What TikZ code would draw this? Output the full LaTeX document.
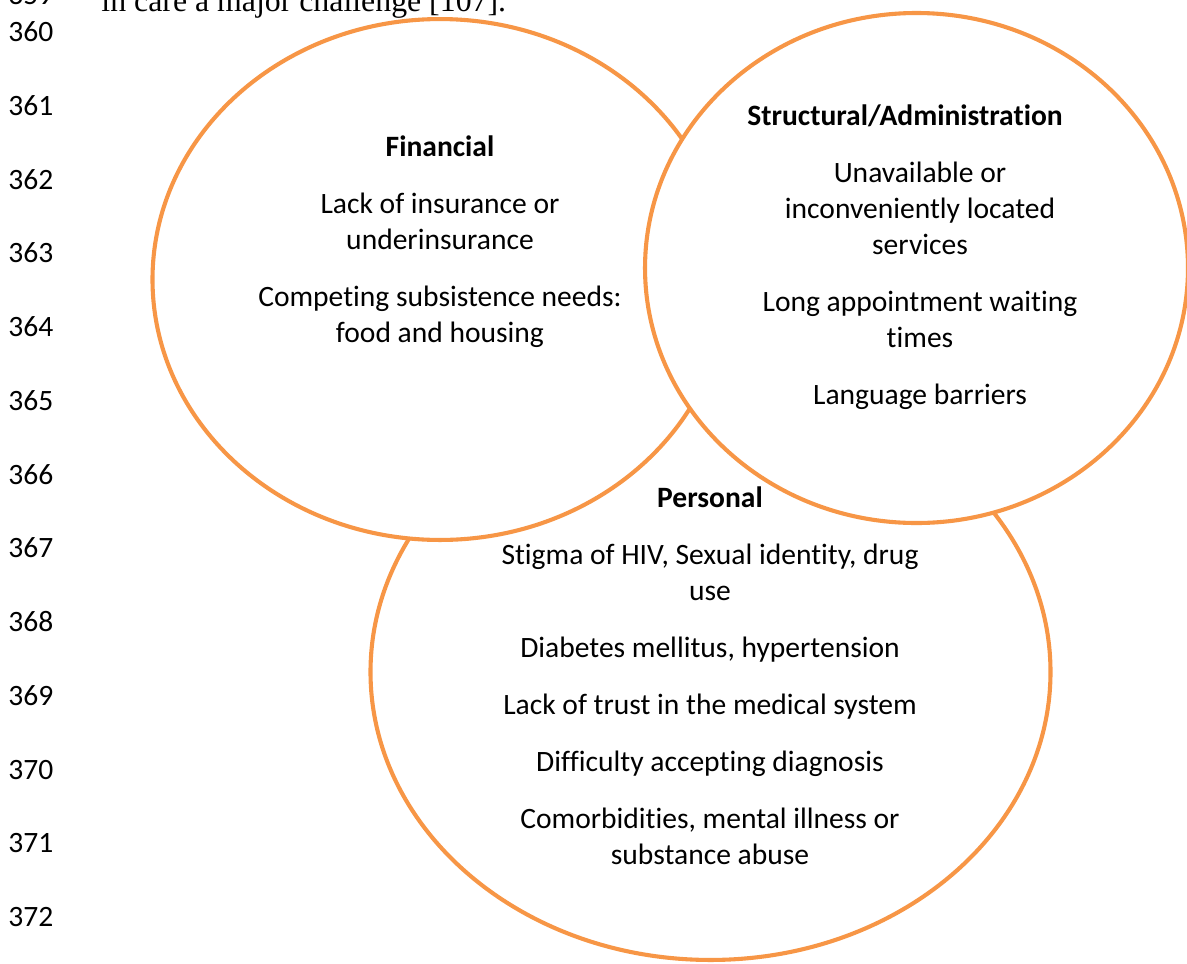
\documentclass[tikz,border=0pt]{standalone}
\usepackage{fontspec}
\setmainfont{Carlito}[Ligatures=NoCommon]
\newfontfamily\timesfont{Liberation Serif}
\usepackage{tikz}
\usetikzlibrary{positioning}
\usetikzlibrary{shapes.geometric}
\definecolor{venn}{RGB}{247,150,70}
\newcommand{\linestrut}{\rule{0pt}{11.09pt}}

\begin{document}
\begin{tikzpicture}[x=0.44pt,y=-0.44pt,inner sep=0pt,node distance=8.9pt,
		ring/.style={draw=venn,line width=1.8pt,fill=white,ellipse},
		txt/.style={align=center,font=\fontsize{13}{15.84}\selectfont,
			execute at begin node=\linestrut,execute at end node={\rule[-4.75pt]{0pt}{4.75pt}}},
		head/.style={txt,font=\fontsize{13}{15.84}\selectfont\bfseries},
		num/.style={anchor=base west,font=\fontsize{13}{15}\selectfont}]
		\useasboundingbox (0,0) rectangle (1187,963);
		\clip (0,0) rectangle (1187,963);
		% line numbers and the end of the previous line
		\node [num] (ln359) at (8,4) {359};
		\foreach \n in {360,...,372}
			\node [num] (ln\n) at (8,{41.5+73.75*(\n-360)}) {\n};
		\node [anchor=base west,font=\timesfont\fontsize{14}{16}\selectfont] (prev) at (101,11) {in care a major challenge [107].};
		% the three rings
		\node [ring,minimum width=299.2pt,minimum height=253.4pt] (personal) at (710.5,672) {};
		\node [ring,minimum width=253pt,minimum height=229.2pt] (financial) at (440,279.5) {};
		\node [ring,minimum width=238.9pt,minimum height=224.4pt] (structural) at (916.5,268) {};
		% Financial
		\node [head] (fintitle) at (440,149) {Financial};
		\node [txt,below=of fintitle] (fin1) {\linestrut Lack of insurance or\\underinsurance};
		\node [txt,below=of fin1] (fin2) {\linestrut Competing subsistence needs:\\food and housing};
		% Structural/Administration
		\node [head] (strtitle) at (905,118) {Structural/Administration};
		\node [txt,below=of strtitle,xshift=6.6pt] (str1) {\linestrut Unavailable or\\inconveniently located\\services};
		\node [txt,below=of str1] (str2) {\linestrut Long appointment waiting\\times};
		\node [txt,below=of str2] (str3) {Language barriers};
		% Personal
		\node [head] (pertitle) at (710,500) {Personal};
		\node [txt,below=of pertitle] (per1) {\linestrut Stigma of HIV, Sexual identity, drug\\use};
		\node [txt,below=of per1] (per2) {Diabetes mellitus, hypertension};
		\node [txt,below=of per2] (per3) {Lack of trust in the medical system};
		\node [txt,below=of per3] (per4) {Difficulty accepting diagnosis};
		\node [txt,below=of per4] (per5) {\linestrut Comorbidities, mental illness or\\substance abuse};
	\end{tikzpicture}
\end{document}
